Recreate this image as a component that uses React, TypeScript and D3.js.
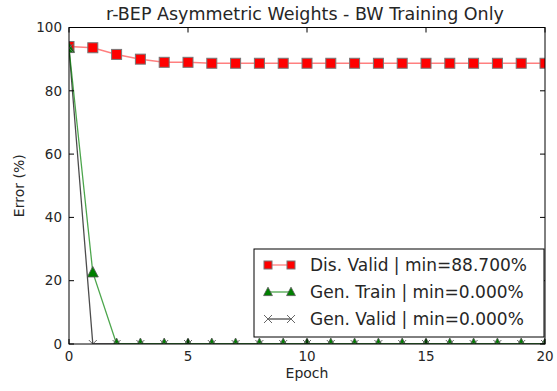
import React from "react";
import * as d3 from "d3";

const epochs = d3.range(0, 21);
const disValid = [94.0, 93.6, 91.5, 90.0, 89.0, 89.0, 88.7, 88.7, 88.7, 88.7, 88.7, 88.7, 88.7, 88.7, 88.7, 88.7, 88.7, 88.7, 88.7, 88.7, 88.7];
const genTrain = [93.5, 22.6, 0, 0, 0, 0, 0, 0, 0, 0, 0, 0, 0, 0, 0, 0, 0, 0, 0, 0, 0];
const genValid = [93.5, 0, 0, 0, 0, 0, 0, 0, 0, 0, 0, 0, 0, 0, 0, 0, 0, 0, 0, 0, 0];
const xTicks = [0, 5, 10, 15, 20];
const yTicks = [0, 20, 40, 60, 80, 100];
const legendLabels = [
  "Dis. Valid | min=88.700%",
  "Gen. Train | min=0.000%",
  "Gen. Valid | min=0.000%",
];
const title = "r-BEP Asymmetric Weights - BW Training Only";

const W = 557, H = 391;
const L = 69, R = 545, T = 27.5, B = 344;
const FONT = "DejaVu Sans, sans-serif";

export default function App() {
  const x = d3.scaleLinear().domain([0, 20]).range([L, R]);
  const y = d3.scaleLinear().domain([0, 100]).range([B, T]);
  const line = d3.line<number>().x((_, i) => x(epochs[i])).y((d) => y(d));
  const tri = (cx: number, cy: number, s: number) =>
    `M${cx},${cy - s * 0.6}L${cx + s * 0.55},${cy + s * 0.45}L${cx - s * 0.55},${cy + s * 0.45}Z`;
  const cross = (cx: number, cy: number, s: number) =>
    `M${cx - s},${cy - s}L${cx + s},${cy + s}M${cx - s},${cy + s}L${cx + s},${cy - s}`;

  const legTop = 249, legBot = 337, legLeft = 254, legRight = 544;
  const rowY = [265, 292, 319];
  const mx0 = 268, mx1 = 291;

  return (
    <svg width={W} height={H} style={{ position: "absolute", left: 0, top: 0 }}>
      <defs>
        <clipPath id="plot">
          <rect x={L} y={T} width={R - L} height={B - T} />
        </clipPath>
      </defs>
      <rect width={W} height={H} fill="white" />
      <text x={(L + R) / 2 - 2} y={20} textAnchor="middle" fontFamily={FONT} fontSize={17.5} fill="#262626">{title}</text>
      <g clipPath="url(#plot)">
        <path d={line(disValid) || ""} fill="none" stroke="red" strokeOpacity={0.5} strokeWidth={1.5} />
        <path d={line(genValid) || ""} fill="none" stroke="black" strokeOpacity={0.7} strokeWidth={1.3} />
        <path d={line(genTrain) || ""} fill="none" stroke="green" strokeOpacity={0.7} strokeWidth={1.3} />
        {disValid.map((v, i) => (
          <rect key={"r" + i} x={x(epochs[i]) - 5} y={y(v) - 5} width={10} height={10} fill="red" stroke="#777" strokeWidth={1} />
        ))}
        {genTrain.map((v, i) => (
          <path key={"g" + i} d={tri(x(epochs[i]), y(v), 10)} fill="green" stroke="#555" strokeWidth={0.8} />
        ))}
        {genValid.map((v, i) => (
          <path key={"b" + i} d={cross(x(epochs[i]), y(v), 4)} fill="none" stroke="#666" strokeWidth={1} />
        ))}
      </g>
      <rect x={L} y={T} width={R - L} height={B - T} fill="none" stroke="black" strokeWidth={1} />
      {xTicks.map((t) => (
        <g key={"xt" + t}>
          <line x1={x(t)} x2={x(t)} y1={B} y2={B - 5} stroke="black" />
          <line x1={x(t)} x2={x(t)} y1={T} y2={T + 5} stroke="black" />
          <text x={x(t)} y={361} textAnchor="middle" fontFamily={FONT} fontSize={13.5} fill="#262626">{t}</text>
        </g>
      ))}
      {yTicks.map((t) => (
        <g key={"yt" + t}>
          <line x1={L} x2={L + 5} y1={y(t)} y2={y(t)} stroke="black" />
          <line x1={R} x2={R - 5} y1={y(t)} y2={y(t)} stroke="black" />
          <text x={62} y={y(t)} dy="0.35em" textAnchor="end" fontFamily={FONT} fontSize={13.5} fill="#262626">{t}</text>
        </g>
      ))}
      <text x={(L + R) / 2} y={378} textAnchor="middle" fontFamily={FONT} fontSize={14} fill="#262626">Epoch</text>
      <text transform={`translate(24,${(T + B) / 2}) rotate(-90)`} textAnchor="middle" fontFamily={FONT} fontSize={14} fill="#262626">Error (%)</text>
      <rect x={legLeft} y={legTop} width={legRight - legLeft} height={legBot - legTop} fill="white" stroke="black" strokeWidth={1} />
      {legendLabels.map((lab, i) => (
        <g key={"lg" + i}>
          <line x1={mx0} x2={mx1} y1={rowY[i]} y2={rowY[i]} stroke={i === 0 ? "red" : i === 1 ? "green" : "black"} strokeOpacity={i === 0 ? 0.5 : 0.7} strokeWidth={1.3} />
          {[mx0, mx1].map((mx) =>
            i === 0 ? (
              <rect key={mx} x={mx - 4} y={rowY[i] - 4} width={8} height={8} fill="red" stroke="#777" />
            ) : i === 1 ? (
              <path key={mx} d={tri(mx, rowY[i], 8)} fill="green" stroke="#555" strokeWidth={0.8} />
            ) : (
              <path key={mx} d={cross(mx, rowY[i], 4)} fill="none" stroke="#666" />
            )
          )}
          <text x={310} y={rowY[i]} dy="0.35em" fontFamily={FONT} fontSize={17} fill="#262626">{lab}</text>
        </g>
      ))}
    </svg>
  );
}
